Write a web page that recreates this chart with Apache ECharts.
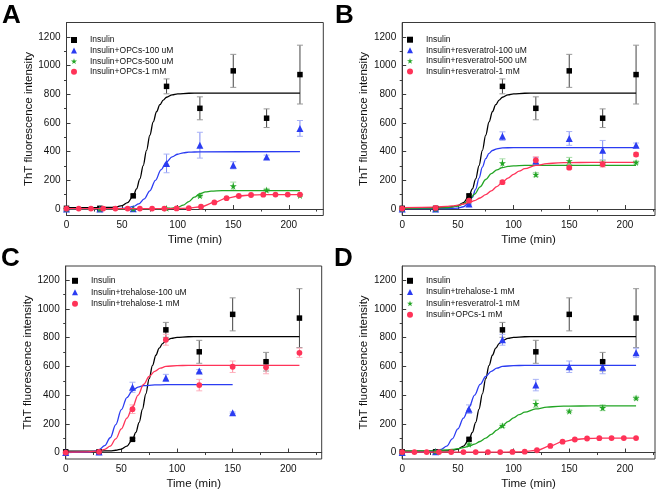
<!DOCTYPE html>
<html><head><meta charset="utf-8">
<script src="https://cdn.jsdelivr.net/npm/echarts@6/dist/echarts.min.js"></script>
<style>html,body{margin:0;padding:0;background:#fff}#c{width:661px;height:493px}</style>
</head><body><div id="c"></div>
<script>
// ---------------- data ----------------
const obsTime = [0, 30, 60, 90, 120, 150, 180, 210];
const yTicks = [0, 200, 400, 600, 800, 1000, 1200];
const yMinorTicks = [100, 300, 500, 700, 900, 1100];
const xTicks = [0, 50, 100, 150, 200];
const xMinorTicks = [25, 75, 125, 175, 225];

const insulinY   = [5, 5, 92, 855, 702, 963, 633, 937];
const insulinErr = [0, 0, 8, 52, 80, 115, 65, 205];
const insulinFitT = [0, 20, 30, 40, 45, 50, 55, 60, 63, 66, 69, 72, 75, 78, 81, 84, 87, 90, 95, 100, 110, 120, 210];
const insulinFitY = [10, 10, 10, 12, 16, 24, 45, 91, 140, 210, 303, 409, 515, 607, 678, 727, 759, 779, 796, 803, 807, 808, 808];

const opc100Y   = [0, 0, 2, 318, 445, 305, 362, 562];
const opc100Err = [0, 0, 0, 65, 90, 25, 14, 55];
const opc100FitT = [0, 40, 50, 55, 60, 65, 70, 75, 80, 85, 90, 95, 100, 105, 110, 120, 210];
const opc100FitY = [0, 1, 4, 8, 18, 36, 71, 127, 200, 273, 329, 364, 382, 392, 396, 399, 400];

const opc500Y   = [0, 0, 2, 5, 92, 160, 132, 95];
const opc500Err = [0, 0, 0, 0, 8, 28, 12, 8];
const opc500FitT = [0, 60, 90, 95, 100, 105, 110, 115, 120, 125, 130, 140, 150, 210];
const opc500FitY = [2, 2, 3.5, 6, 12.5, 27, 52, 83, 107, 119, 125, 128, 128, 128];

const opc1mmT = [0, 11, 22, 33, 44, 55, 66, 77, 88, 99, 110, 121, 133, 144, 155, 166, 177, 188, 199, 210];
const opc1mmY = [3, 3, 3, 3, 3, 3, 3, 3, 3, 4, 6, 16, 46, 76, 91, 98, 100, 101, 101, 101];

const res100Y   = [0, 0, 35, 508, 335, 492, 410, 445];
const res100Err = [0, 0, 5, 30, 25, 48, 68, 15];
const res100FitT = [0, 30, 40, 50, 55, 60, 63, 66, 69, 72, 75, 78, 81, 85, 90, 100, 210];
const res100FitY = [3, 3, 3, 7, 16, 44, 81, 139, 216, 292, 351, 388, 408, 420, 426, 428, 428];

const res500Y   = [0, 0, 60, 320, 240, 335, 320, 325];
const res500Err = [0, 0, 5, 30, 15, 25, 20, 10];
const res500FitT = [0, 30, 40, 50, 55, 60, 65, 70, 75, 80, 85, 90, 95, 100, 110, 210];
const res500FitY = [5, 6, 9, 21, 37, 63, 104, 155, 206, 247, 273, 289, 297, 301, 304, 305];

const res1mmY   = [3, 8, 58, 187, 340, 288, 312, 380];
const res1mmErr = [0, 0, 8, 12, 25, 10, 20, 12];
const res1mmFitT = [0, 30, 40, 45, 50, 55, 60, 65, 70, 75, 80, 85, 90, 95, 100, 105, 110, 120, 130, 140, 150, 170, 210];
const res1mmFitY = [10, 14, 18, 22, 27, 35, 45, 59, 77, 100, 127, 156, 187, 216, 242, 264, 281, 304, 316, 322, 324, 325, 325];

const treh100T   = [0, 30, 60, 90, 120, 150];
const treh100Y   = [0, 3, 455, 520, 568, 278];
const treh100Err = [0, 0, 35, 25, 10, 5];
const treh100FitT = [0, 20, 25, 30, 35, 40, 45, 50, 55, 60, 65, 70, 80, 90, 150];
const treh100FitY = [0, 3, 8, 20, 48, 103, 194, 299, 383, 432, 456, 466, 471, 473, 473];

const treh1mmY   = [0, 5, 302, 786, 470, 598, 594, 695];
const treh1mmErr = [0, 0, 30, 38, 40, 40, 45, 32];
const treh1mmFitT = [0, 20, 30, 35, 40, 45, 50, 55, 60, 65, 70, 75, 80, 85, 90, 100, 110, 210];
const treh1mmFitY = [3, 5, 12, 22, 45, 95, 165, 240, 315, 400, 475, 530, 565, 588, 600, 606, 607, 608];

// ---------------- styling ----------------
const FONT = '"Liberation Sans", Arial, sans-serif';
const STAR = 'path://M50,0 L61,35 L98,35 L68,57 L79,91 L50,70 L21,91 L32,57 L2,35 L39,35 Z';
const BLACK = {color: '#000000', err: '#444444', cap: '#999999', symbol: 'rect', size: 5.5};
const BLUE  = {color: '#2b3cf2', err: '#7d8bf3', cap: '#a9b3f7', symbol: 'triangle', size: 7};
const GREEN = {color: '#22a524', err: '#7fcd80', cap: '#a8dca9', symbol: STAR, size: 7};
const RED   = {color: '#ff3358', err: '#ff8a9d', cap: '#ffb1be', symbol: 'circle', size: 5.8};

const zip = (a, b) => a.map((v, i) => [v, b[i]]);
const zip3 = (a, b, c) => a.map((v, i) => [v, b[i], c[i]]);

const panels = [
  {letter: 'A', letterPos: [2, 3], grid: {left: 66.5, top: 22.5, width: 256.8, height: 193}, xMax: 231,
   legend: {left: 71, top: 35.5, gap: 1.6},
   groups: [
     {name: 'Insulin', st: BLACK, t: obsTime, y: insulinY, e: insulinErr, ft: insulinFitT, fy: insulinFitY},
     {name: 'Insulin+OPCs-100 uM', st: BLUE, t: obsTime, y: opc100Y, e: opc100Err, ft: opc100FitT, fy: opc100FitY},
     {name: 'Insulin+OPCs-500 uM', st: GREEN, t: obsTime, y: opc500Y, e: opc500Err, ft: opc500FitT, fy: opc500FitY},
     {name: 'Insulin+OPCs-1 mM', st: RED, lt: opc1mmT, ly: opc1mmY}
   ]},
  {letter: 'B', letterPos: [335, 3], grid: {left: 402.2, top: 22.5, width: 252.8, height: 193}, xMax: 227,
   legend: {left: 407, top: 35.2, gap: 1.6},
   groups: [
     {name: 'Insulin', st: BLACK, t: obsTime, y: insulinY, e: insulinErr, ft: insulinFitT, fy: insulinFitY},
     {name: 'Insulin+resveratrol-100 uM', st: BLUE, t: obsTime, y: res100Y, e: res100Err, ft: res100FitT, fy: res100FitY},
     {name: 'Insulin+resveratrol-500 uM', st: GREEN, t: obsTime, y: res500Y, e: res500Err, ft: res500FitT, fy: res500FitY},
     {name: 'Insulin+resveratrol-1 mM', st: RED, t: obsTime, y: res1mmY, e: res1mmErr, ft: res1mmFitT, fy: res1mmFitY}
   ]},
  {letter: 'C', letterPos: [1, 246], grid: {left: 65.7, top: 266, width: 256, height: 193}, xMax: 230,
   legend: {left: 72, top: 276.3, gap: 2.5},
   groups: [
     {name: 'Insulin', st: BLACK, t: obsTime, y: insulinY, e: insulinErr, ft: insulinFitT, fy: insulinFitY},
     {name: 'Insulin+trehalose-100 uM', st: BLUE, t: treh100T, y: treh100Y, e: treh100Err, ft: treh100FitT, fy: treh100FitY},
     {name: 'Insulin+trehalose-1 mM', st: RED, t: obsTime, y: treh1mmY, e: treh1mmErr, ft: treh1mmFitT, fy: treh1mmFitY}
   ]},
  {letter: 'D', letterPos: [334, 246], grid: {left: 402.2, top: 266, width: 252.8, height: 193}, xMax: 227,
   legend: {left: 407, top: 276.3, gap: 2.3},
   groups: [
     {name: 'Insulin', st: BLACK, t: obsTime, y: insulinY, e: insulinErr, ft: insulinFitT, fy: insulinFitY},
     {name: 'Insulin+trehalose-1 mM', st: BLUE, t: obsTime, y: treh1mmY, e: treh1mmErr, ft: treh1mmFitT, fy: treh1mmFitY},
     {name: 'Insulin+resveratrol-1 mM', st: GREEN, t: obsTime, y: res1mmY, e: res1mmErr, ft: res1mmFitT, fy: res1mmFitY},
     {name: 'Insulin+OPCs-1 mM', st: RED, lt: opc1mmT, ly: opc1mmY}
   ]}
];

function errRender(lineColor, capColor) {
  return function (params, api) {
    const x = api.value(0), v = api.value(1), e = api.value(2);
    if (!e) return;
    const p1 = api.coord([x, v + e]);
    const p2 = api.coord([x, v - e]);
    const hw = 3;
    return {type: 'group', children: [
      {type: 'line', shape: {x1: p1[0], y1: p1[1], x2: p2[0], y2: p2[1]}, style: {stroke: lineColor, lineWidth: 1}},
      {type: 'line', shape: {x1: p1[0] - hw, y1: p1[1], x2: p1[0] + hw, y2: p1[1]}, style: {stroke: capColor, lineWidth: 1}},
      {type: 'line', shape: {x1: p2[0] - hw, y1: p2[1], x2: p2[0] + hw, y2: p2[1]}, style: {stroke: capColor, lineWidth: 1}}
    ]};
  };
}

const grids = [], xAxes = [], yAxes = [], series = [], legends = [], graphics = [];
panels.forEach((p, i) => {
  grids.push(Object.assign({show: true, borderColor: '#3a3a3a', borderWidth: 1, backgroundColor: 'transparent'}, p.grid));
  const xi = xAxes.length, yi = yAxes.length;
  xAxes.push({
    type: 'value', gridIndex: i, min: 0, max: p.xMax,
    axisLine: {show: true, lineStyle: {color: '#3a3a3a'}},
    axisTick: {show: true, inside: true, length: 4, customValues: xTicks, lineStyle: {color: '#3a3a3a'}},
    axisLabel: {show: true, customValues: xTicks, margin: 5, fontSize: 10, color: '#111', fontFamily: FONT,
                formatter: v => String(v)},
    splitLine: {show: false},
    name: 'Time (min)', nameLocation: 'middle', nameGap: 18.5,
    nameTextStyle: {fontSize: 11.5, color: '#111', fontFamily: FONT}
  });
  xAxes.push({
    type: 'value', gridIndex: i, min: 0, max: p.xMax,
    axisLine: {show: false}, axisLabel: {show: false}, splitLine: {show: false},
    axisTick: {show: true, inside: true, length: 2.5, customValues: xMinorTicks, lineStyle: {color: '#3a3a3a'}}
  });
  yAxes.push({
    type: 'value', gridIndex: i, min: -45, max: 1300,
    axisLine: {show: true, lineStyle: {color: '#3a3a3a'}},
    axisTick: {show: true, inside: true, length: 4, customValues: yTicks, lineStyle: {color: '#3a3a3a'}},
    axisLabel: {show: true, customValues: yTicks, margin: 6, fontSize: 10, color: '#111', fontFamily: FONT,
                formatter: v => String(v)},
    splitLine: {show: false},
    name: 'ThT fluorescence intensity', nameLocation: 'middle', nameGap: 29,
    nameTextStyle: {fontSize: 11.5, color: '#111', fontFamily: FONT}
  });
  yAxes.push({
    type: 'value', gridIndex: i, min: -45, max: 1300,
    axisLine: {show: false}, axisLabel: {show: false}, splitLine: {show: false},
    axisTick: {show: true, inside: true, length: 2.5, customValues: yMinorTicks, lineStyle: {color: '#3a3a3a'}}
  });

  const legendData = [];
  p.groups.forEach(g => {
    const s = g.st;
    const base = {xAxisIndex: xi, yAxisIndex: yi, silent: true};
    if (g.e) {
      series.push(Object.assign({}, base, {
        type: 'custom', name: g.name + ' err', z: 2,
        data: zip3(g.t, g.y, g.e), encode: {x: 0, y: 1},
        renderItem: errRender(s.err, s.cap)
      }));
    }
    if (g.ft) {
      series.push(Object.assign({}, base, {
        type: 'line', name: g.name + ' fit', z: 3, data: zip(g.ft, g.fy),
        smooth: 0.35, smoothMonotone: 'x', showSymbol: false, symbol: 'none',
        lineStyle: {color: s.color, width: 1.3}
      }));
    }
    if (g.y) {
      series.push(Object.assign({}, base, {
        type: 'scatter', name: g.name, z: 4, data: zip(g.t, g.y),
        symbol: s.symbol, symbolSize: s.size, itemStyle: {color: s.color, opacity: 1}
      }));
    }
    if (g.lt) {
      series.push(Object.assign({}, base, {
        type: 'line', name: g.name, z: 5, data: zip(g.lt, g.ly),
        smooth: 0.35, smoothMonotone: 'x', showSymbol: true, symbol: 'circle', symbolSize: s.size,
        lineStyle: {color: s.color, width: 1.3}, itemStyle: {color: s.color}
      }));
    }
    legendData.push({name: g.name, icon: s.symbol, itemStyle: {color: s.color, borderWidth: 0}});
  });

  legends.push({
    show: true, orient: 'vertical', left: p.legend.left, top: p.legend.top,
    padding: 0, itemGap: p.legend.gap, itemWidth: 6, itemHeight: 6,
    selectedMode: false, data: legendData,
    textStyle: {fontSize: 8.5, color: '#111', fontFamily: FONT, lineHeight: 7, padding: [0, 0, 0, 8]}
  });

  graphics.push({
    type: 'text', left: p.letterPos[0], top: p.letterPos[1],
    style: {text: p.letter, font: 'bold 26px "Liberation Sans", Arial, sans-serif', fill: '#000'}
  });
});

const chart = echarts.init(document.getElementById('c'), null, {renderer: 'canvas'});
chart.setOption({
  animation: false,
  backgroundColor: '#ffffff',
  textStyle: {fontFamily: FONT},
  grid: grids, xAxis: xAxes, yAxis: yAxes,
  legend: legends, series: series, graphic: graphics
});
</script>
</body></html>
